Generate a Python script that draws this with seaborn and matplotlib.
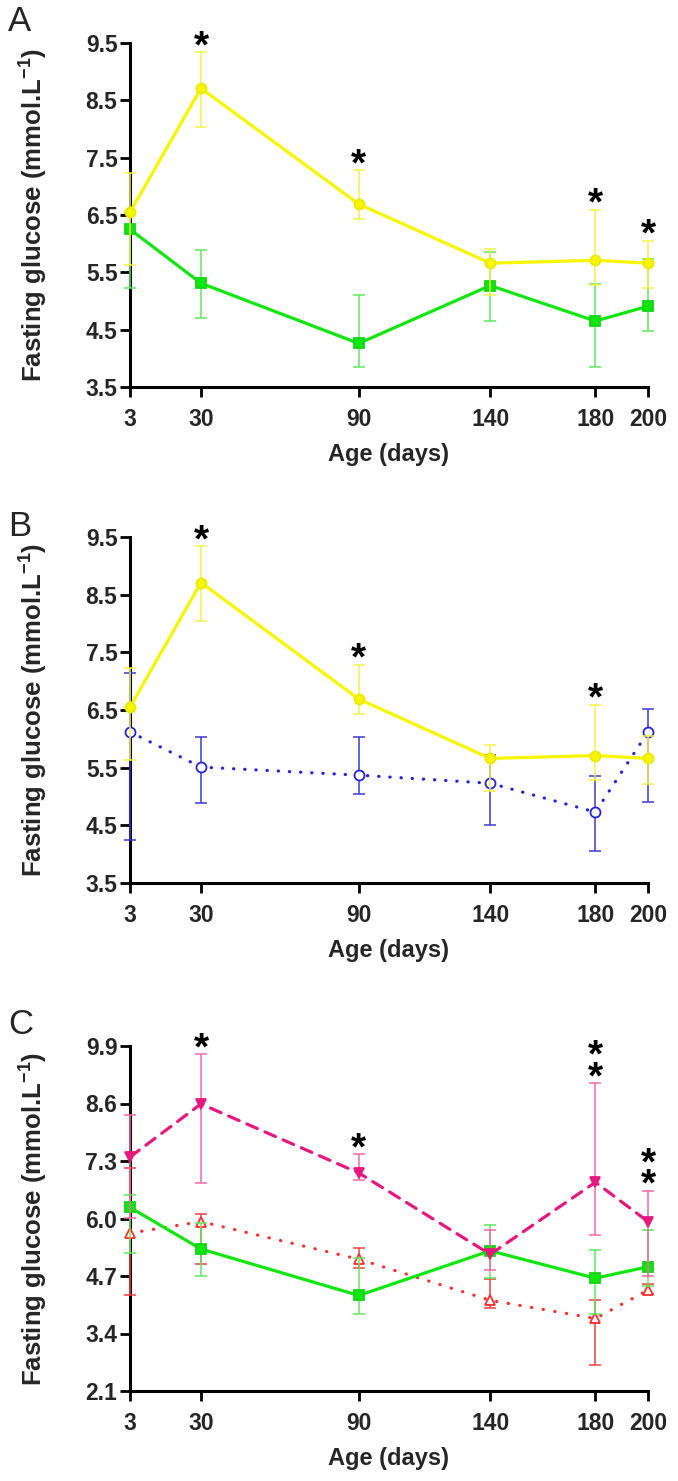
import matplotlib
matplotlib.use("Agg")
import matplotlib.pyplot as plt
import seaborn as sns
import numpy as np

# ---------------- data ----------------
days = [3, 30, 90, 140, 180, 200]

yellow_mean = [6.55, 8.71, 6.69, 5.66, 5.71, 5.66]
yellow_hi   = [7.23, 9.34, 7.28, 5.90, 6.59, 6.05]
yellow_lo   = [5.63, 8.04, 6.43, 5.10, 5.28, 5.22]

green_mean = [6.25, 5.31, 4.26, 5.27, 4.65, 4.91]
green_hi   = [6.53, 5.89, 5.11, 5.86, 5.29, 5.74]
green_lo   = [5.22, 4.71, 3.85, 4.65, 3.85, 4.48]

blue_mean = [6.12, 5.51, 5.37, 5.23, 4.73, 6.12]
blue_hi   = [7.15, 6.03, 6.03, 5.72, 5.36, 6.52]
blue_lo   = [4.25, 4.89, 5.04, 4.50, 4.06, 4.91]

pink_mean = [7.39, 8.59, 7.03, 5.19, 6.82, 5.93]
pink_hi   = [8.34, 9.71, 7.45, 5.74, 9.06, 6.63]
pink_lo   = [6.01, 6.81, 6.87, 4.83, 5.62, 4.70]

red_mean = [5.67, 5.93, 5.08, 4.15, 3.74, 4.38]
red_hi   = [7.14, 6.11, 5.34, 4.64, 4.15, 4.52]
red_lo   = [4.27, 4.98, 4.88, 3.97, 2.68, 4.30]

yticks_AB = [3.5, 4.5, 5.5, 6.5, 7.5, 8.5, 9.5]
yticks_C = [2.1, 3.4, 4.7, 6.0, 7.3, 8.6, 9.9]

# significance stars: day -> number of stars
stars_A = {30: 1, 90: 1, 180: 1, 200: 1}
stars_B = {30: 1, 90: 1, 180: 1}
stars_C = {30: 1, 90: 1, 180: 2, 200: 2}

# ---------------- style ----------------
sns.set_style("ticks")
plt.rcParams['font.family'] = ['Liberation Sans', 'DejaVu Sans']
plt.rcParams['mathtext.fontset'] = 'custom'
plt.rcParams['mathtext.rm'] = 'Liberation Sans'
plt.rcParams['mathtext.bf'] = 'Liberation Sans:bold'
plt.rcParams['mathtext.default'] = 'bf'

fig = plt.figure(figsize=(6.78, 14.81), dpi=100)
W, H = 678, 1481
left, right = 130, 648
panels = [(43, 387), (537, 883), (1046, 1391)]
axes = []
for top, bot in panels:
    axes.append(fig.add_axes([left / W, (H - bot) / H, (right - left) / W, (bot - top) / H]))

STY = {
    'yellow': dict(color='#f6f600', ecolor='#f2f24a', marker='o', mfc='#f6f600', mec='#eaea00', ls='-'),
    'green': dict(color='#11e611', ecolor='#5ee85e', marker='s', mfc='#11e611', mec='#11d611', ls='-'),
    'blue': dict(color='#2424dd', ecolor='#3a3ad0', marker='o', mfc='white', mec='#2424dd', ls=(0, (0.1, 3.4))),
    'pink': dict(color='#e6197f', ecolor='#f06aa6', marker='v', mfc='#e6197f', mec='#e6197f', ls=(0, (3.6, 2.6))),
    'red': dict(color='#ff2a2a', ecolor='#f04040', marker='^', mfc='white', mec='#ff2a2a', ls=(0, (0.1, 3.6))),
}


def draw(ax, name, mean, hi, lo, z):
    s = STY[name]
    m = np.array(mean); h = np.array(hi); l = np.array(lo)
    ax.errorbar(days, m, yerr=[m - l, h - m], fmt='none', ecolor=s['ecolor'],
                elinewidth=1.1, capsize=4, capthick=1.1, clip_on=False, zorder=z)
    sns.lineplot(x=days, y=mean, ax=ax, color=s['color'], linewidth=2.3,
                 linestyle=s['ls'], dash_capstyle='round', marker=s['marker'],
                 markersize=7.2, markerfacecolor=s['mfc'], markeredgecolor=s['mec'],
                 markeredgewidth=1.3, clip_on=False, zorder=z + 0.5)


def stars(ax, spec, tops):
    for d, n in spec.items():
        i = days.index(d)
        y = max(t[i] for t in tops)
        ax.annotate('\n'.join(['*'] * n), xy=(d, y), xytext=(0, -3.5), textcoords='offset points',
                    ha='center', va='baseline', fontsize=28, fontweight='bold',
                    linespacing=0.48, multialignment='center',
                    color='black', annotation_clip=False)


def fmt_axis(ax, yt):
    ax.set_xlim(3, 200)
    ax.set_ylim(yt[0], yt[-1])
    ax.set_xticks(days)
    ax.set_xticklabels([str(d) for d in days])
    ax.set_yticks(yt)
    ax.set_yticklabels([f"{v:.1f}" for v in yt])
    for sp in ['top', 'right']:
        ax.spines[sp].set_visible(False)
    for sp in ['left', 'bottom']:
        ax.spines[sp].set_linewidth(2.2)
        ax.spines[sp].set_color('black')
    ax.tick_params(axis='both', direction='out', length=7, width=2.0, color='black',
                   labelsize=16.5)
    ax.tick_params(axis='x', pad=8)
    ax.tick_params(axis='y', pad=2)
    for lab in ax.get_xticklabels() + ax.get_yticklabels():
        lab.set_fontweight('bold')
    ax.set_ylabel('Fasting glucose (mmol.L$^{-1}$)', fontsize=18.5, fontweight='bold')
    ax.yaxis.set_label_coords(-0.155, 0.5)
    ax.set_xlabel('Age (days)', fontsize=17, fontweight='bold', va='top')
    ax.xaxis.set_label_coords(0.5, -0.162)
    ax.grid(False)
    ax.set_facecolor('white')


axA, axB, axC = axes
draw(axA, 'green', green_mean, green_hi, green_lo, 3)
draw(axA, 'yellow', yellow_mean, yellow_hi, yellow_lo, 4)
fmt_axis(axA, yticks_AB)
stars(axA, stars_A, [yellow_hi])

draw(axB, 'blue', blue_mean, blue_hi, blue_lo, 3)
draw(axB, 'yellow', yellow_mean, yellow_hi, yellow_lo, 4)
fmt_axis(axB, yticks_AB)
stars(axB, stars_B, [yellow_hi])

draw(axC, 'red', red_mean, red_hi, red_lo, 3)
draw(axC, 'green', green_mean, green_hi, green_lo, 4)
draw(axC, 'pink', pink_mean, pink_hi, pink_lo, 5)
fmt_axis(axC, yticks_C)
stars(axC, stars_C, [pink_hi])

for letter, ytop in [('A', 5), ('B', 510), ('C', 1008)]:
    fig.text(8 / W, 1 - ytop / H, letter, fontsize=25, ha='left', va='top')

fig.savefig('out.png', dpi=100, facecolor='white')
